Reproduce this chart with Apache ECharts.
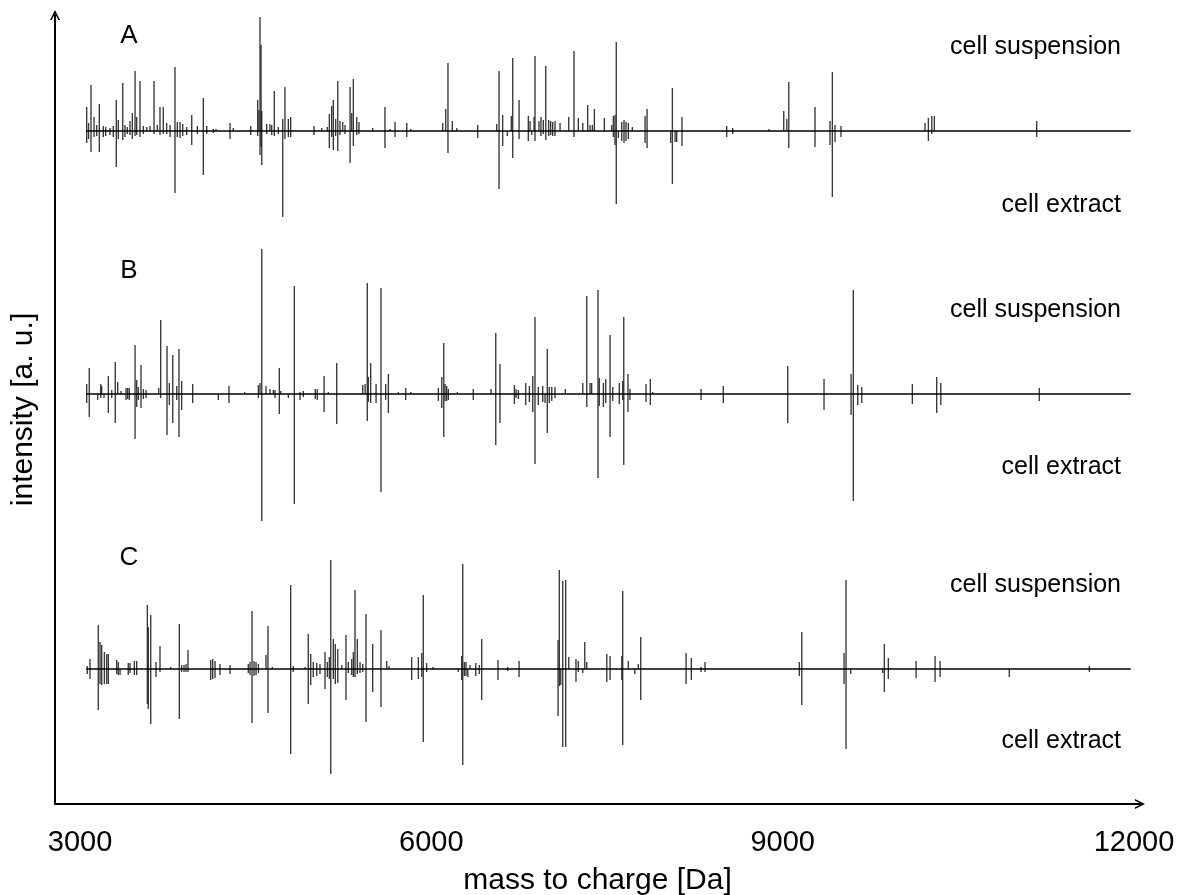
<!DOCTYPE html>
<html>
<head>
<meta charset="utf-8">
<script src="https://cdn.jsdelivr.net/npm/echarts@6/dist/echarts.min.js"></script>
<style>
html,body{margin:0;padding:0;background:#fff;}
#chart{width:1189px;height:895px;}
</style>
</head>
<body>
<div id="chart"></div>
<script>
// ---------- data (m/z in Da, intensity in arbitrary units) ----------
const xTickLabels = [3000, 6000, 9000, 12000];
const xTitle = 'mass to charge [Da]';
const yTitle = 'intensity [a. u.]';
const panelLetters = ['A', 'B', 'C'];
const upperLabel = 'cell suspension';
const lowerLabel = 'cell extract';
const baselineRange = [3051, 11972];

// Panel A
const aSusp = [[3057,24],[3073,8],[3094,46],[3120,14],[3143,6],[3165,27],[3199,5],[3219,4],[3256,3],[3284,5],[3310,31],[3327,11],[3365,48],[3384,6],[3404,4],[3427,10],[3447,18],[3470,60],[3484,14],[3512,50],[3541,5],[3570,4],[3598,5],[3632,50],[3660,6],[3683,24],[3711,24],[3740,8],[3769,6],[3811,64],[3831,9],[3854,9],[3877,7],[3911,4],[3954,16],[4002,5],[4053,33],[4082,5],[4138,2],[4161,2],[4281,8],[4309,3],[4458,5],[4517,31],[4528,21],[4537,114],[4546,86],[4552,20],[4594,7],[4622,7],[4637,6],[4659,40],[4693,4],[4731,12],[4750,44],[4779,12],[4799,14],[4998,5],[5064,3],[5112,4],[5129,17],[5149,25],[5163,31],[5183,12],[5201,50],[5220,10],[5243,9],[5263,6],[5306,44],[5320,18],[5334,52],[5363,14],[5382,9],[5499,3],[5604,24],[5647,2],[5690,9],[5790,8],[5824,2],[6097,8],[6123,22],[6142,68],[6179,10],[6217,3],[6396,6],[6558,7],[6578,60],[6609,16],[6683,15],[6695,73],[6749,31],[6828,15],[6843,10],[6877,14],[6885,75],[6919,10],[6936,14],[6956,11],[6977,65],[7002,11],[7019,10],[7036,9],[7056,10],[7099,8],[7173,14],[7218,80],[7255,13],[7293,8],[7335,26],[7355,6],[7375,6],[7392,22],[7477,13],[7540,6],[7554,15],[7568,16],[7579,89],[7626,9],[7645,11],[7662,9],[7682,8],[7716,4],[7825,15],[7842,22],[8058,43],[8140,14],[8522,5],[8573,3],[8883,2],[9009,20],[9035,12],[9052,49],[9276,24],[9404,10],[9424,59],[9447,6],[9498,5],[10215,8],[10244,13],[10273,15],[10295,15],[11169,10]];
const aExtr = [[3057,12],[3073,8],[3094,21],[3120,6],[3143,5],[3165,21],[3199,6],[3219,5],[3256,4],[3284,6],[3310,36],[3327,8],[3365,9],[3384,6],[3404,3],[3427,4],[3447,8],[3470,5],[3484,4],[3512,6],[3541,3],[3632,3],[3683,4],[3711,3],[3740,3],[3769,6],[3811,62],[3831,6],[3854,7],[3877,5],[3911,4],[3954,14],[4002,3],[4053,44],[4082,3],[4138,2],[4281,8],[4458,4],[4517,5],[4537,24],[4546,16],[4552,34],[4594,3],[4637,4],[4659,5],[4693,3],[4731,86],[4750,8],[4779,6],[4799,6],[4998,4],[5129,17],[5149,6],[5163,19],[5183,5],[5201,20],[5220,4],[5263,3],[5306,32],[5334,15],[5363,4],[5382,3],[5604,17],[5690,6],[5790,6],[6142,22],[6396,7],[6578,58],[6609,15],[6649,5],[6695,27],[6749,8],[6828,10],[6857,4],[6885,10],[6936,5],[6956,3],[6977,9],[7002,5],[7019,4],[7036,5],[7056,5],[7218,6],[7554,6],[7568,14],[7579,73],[7597,7],[7626,10],[7645,12],[7662,10],[7682,8],[7825,12],[7842,17],[8044,12],[8058,53],[8081,11],[8095,11],[8140,15],[8522,6],[8573,3],[9052,17],[9276,16],[9404,14],[9424,66],[9447,11],[9498,6],[10244,10],[10273,3],[11169,6]];

// Panel B
const bSusp = [[3057,10],[3079,26],[3177,10],[3185,8],[3242,18],[3271,4],[3301,32],[3322,12],[3350,3],[3393,6],[3407,6],[3421,6],[3470,49],[3484,14],[3498,7],[3521,29],[3541,5],[3564,4],[3672,6],[3689,74],[3743,48],[3763,11],[3792,39],[3826,8],[3845,45],[3868,13],[3962,10],[4272,8],[4406,2],[4523,9],[4537,11],[4552,145],[4588,8],[4622,5],[4651,4],[4665,4],[4702,26],[4714,3],[4830,108],[4879,2],[4907,3],[5009,5],[5026,5],[5084,18],[5120,2],[5192,31],[5414,9],[5434,10],[5453,111],[5462,17],[5482,31],[5528,10],[5570,106],[5610,10],[5633,20],[5718,2],[5781,6],[5824,2],[6060,6],[6089,17],[6106,51],[6117,10],[6131,8],[6145,5],[6222,2],[6358,5],[6510,5],[6550,61],[6586,30],[6709,9],[6723,5],[6743,4],[6806,11],[6837,8],[6866,18],[6885,77],[6913,7],[6951,8],[6990,45],[7007,7],[7028,7],[7056,7],[7144,5],[7293,11],[7327,98],[7355,11],[7369,11],[7423,104],[7434,16],[7469,11],[7489,15],[7526,59],[7549,7],[7605,11],[7634,13],[7643,77],[7679,20],[7696,5],[7833,10],[7870,15],[7890,2],[8303,5],[8493,8],[9043,28],[9353,15],[9584,20],[9603,104],[9641,9],[9675,7],[10107,10],[10315,17],[10350,11],[11191,6]];
const bExtr = [[3057,9],[3079,23],[3151,6],[3177,4],[3205,4],[3242,19],[3271,4],[3301,29],[3393,6],[3407,5],[3421,6],[3470,45],[3484,13],[3498,6],[3521,14],[3541,5],[3564,4],[3689,4],[3743,41],[3763,11],[3792,29],[3826,6],[3845,43],[3868,16],[3962,9],[4181,6],[4272,9],[4523,4],[4552,127],[4665,4],[4702,20],[4779,4],[4830,110],[4879,6],[4907,3],[5009,5],[5026,6],[5084,18],[5192,30],[5453,27],[5462,8],[5482,9],[5528,9],[5570,98],[5610,6],[5633,19],[5781,6],[6060,7],[6089,14],[6106,43],[6117,7],[6131,7],[6145,6],[6358,6],[6550,51],[6586,29],[6709,10],[6723,4],[6743,5],[6806,11],[6837,8],[6866,18],[6885,70],[6913,11],[6951,8],[6971,9],[6990,39],[7007,9],[7028,7],[7056,4],[7327,13],[7423,84],[7434,12],[7469,13],[7489,9],[7526,43],[7549,7],[7605,10],[7634,6],[7643,71],[7679,18],[7696,6],[7833,8],[7870,11],[8303,6],[8493,9],[9043,29],[9353,16],[9584,21],[9603,107],[9641,11],[9675,9],[10107,10],[10315,19],[10350,11],[11191,7]];

// Panel C
const cSusp = [[3062,3],[3085,10],[3156,44],[3171,27],[3185,24],[3208,17],[3228,15],[3242,15],[3313,9],[3327,7],[3412,6],[3427,6],[3464,8],[3484,8],[3575,64],[3583,42],[3604,54],[3649,7],[3683,23],[3774,2],[3848,45],[3868,4],[3888,4],[3905,5],[3922,19],[4116,9],[4133,10],[4153,8],[4195,5],[4281,4],[4437,5],[4452,7],[4469,58],[4486,8],[4503,7],[4523,5],[4588,14],[4605,43],[4642,2],[4799,84],[4821,3],[4921,2],[4949,35],[4970,15],[4992,7],[5021,6],[5049,5],[5092,17],[5112,7],[5129,12],[5141,109],[5163,30],[5180,25],[5201,20],[5235,4],[5271,34],[5291,7],[5320,10],[5334,17],[5348,79],[5368,30],[5391,7],[5414,5],[5442,55],[5499,25],[5570,39],[5619,8],[5639,3],[5832,12],[5889,12],[5918,16],[5931,74],[5960,6],[6014,2],[6259,13],[6268,105],[6282,7],[6296,7],[6330,4],[6379,6],[6410,4],[6430,30],[6569,9],[6652,2],[6749,8],[7082,29],[7093,99],[7122,88],[7147,89],[7173,12],[7235,10],[7255,8],[7310,27],[7327,7],[7498,15],[7526,13],[7626,13],[7634,78],[7682,8],[7767,5],[7788,32],[8175,16],[8220,11],[8303,2],[8337,7],[9142,7],[9163,37],[9524,16],[9541,89],[9868,25],[9902,11],[10139,8],[10301,13],[10344,8],[11619,3]];
const cExtr = [[3062,5],[3085,10],[3156,41],[3171,15],[3185,16],[3208,15],[3228,15],[3242,15],[3313,5],[3327,6],[3342,6],[3412,6],[3427,4],[3464,6],[3484,6],[3575,35],[3583,40],[3604,55],[3649,8],[3683,3],[3848,50],[3868,3],[3888,3],[3905,3],[3922,3],[4116,11],[4133,10],[4153,9],[4195,6],[4281,5],[4437,4],[4452,6],[4469,54],[4486,7],[4503,6],[4523,4],[4605,44],[4799,85],[4821,3],[4949,35],[4970,16],[4992,8],[5021,7],[5049,5],[5092,20],[5112,8],[5129,10],[5141,105],[5163,10],[5180,15],[5201,14],[5271,31],[5291,4],[5320,6],[5334,8],[5348,8],[5368,5],[5391,4],[5414,3],[5442,53],[5499,23],[5570,38],[5832,11],[5889,10],[5918,8],[5931,73],[5960,3],[6230,3],[6259,11],[6268,96],[6282,7],[6296,7],[6311,8],[6379,7],[6410,5],[6430,31],[6569,11],[6652,2],[6749,8],[7082,47],[7093,17],[7105,16],[7122,78],[7147,78],[7235,13],[7255,3],[7293,4],[7498,13],[7526,11],[7626,11],[7634,76],[7737,5],[7788,31],[8175,15],[8220,11],[8303,3],[8337,3],[9142,7],[9163,36],[9524,15],[9541,80],[9581,5],[9854,4],[9868,23],[9902,10],[10139,9],[10301,13],[10344,8],[10935,8],[11619,3]];

// ---------- layout ----------
const FONT = '"Liberation Sans", Arial, Helvetica, sans-serif';
const X_MIN = 2786.5, X_MAX = 12051;
const LEFT = 55, WIDTH = 1085;
const panels = [
  {susp: aSusp, extr: aExtr, base: 131, half: 130, letterY: 36, suspY: 47, extrY: 205},
  {susp: bSusp, extr: bExtr, base: 394, half: 150, letterY: 271, suspY: 310, extrY: 467},
  {susp: cSusp, extr: cExtr, base: 669, half: 130, letterY: 558, suspY: 585, extrY: 741}
];

const grids = [], xAxes = [], yAxes = [], series = [], graphics = [];

function stick(params, api) {
  const x = api.value(0), v = api.value(1);
  const p0 = api.coord([x, 0]);
  const p1 = api.coord([x, v]);
  return {
    type: 'line',
    shape: {x1: p0[0], y1: p0[1], x2: p1[0], y2: p1[1]},
    style: {stroke: 'rgba(20,20,20,0.85)', lineWidth: 1.35}
  };
}

panels.forEach((p, i) => {
  grids.push({left: LEFT, width: WIDTH, top: p.base - p.half, height: 2 * p.half, outerBoundsMode: 'none', containLabel: false});
  xAxes.push({type: 'value', gridIndex: i, min: X_MIN, max: X_MAX, show: false});
  yAxes.push({type: 'value', gridIndex: i, min: -p.half, max: p.half, show: false});
  series.push({
    type: 'custom', xAxisIndex: i, yAxisIndex: i, renderItem: stick,
    encode: {x: 0, y: 1}, data: p.susp, silent: true, z: 2
  });
  series.push({
    type: 'custom', xAxisIndex: i, yAxisIndex: i, renderItem: stick,
    encode: {x: 0, y: 1}, data: p.extr.map(d => [d[0], -d[1]]), silent: true, z: 2
  });
  series.push({
    type: 'line', xAxisIndex: i, yAxisIndex: i, symbol: 'none', silent: true, z: 3,
    data: [[baselineRange[0], 0], [baselineRange[1], 0]],
    lineStyle: {color: '#000', width: 1.6}
  });
  graphics.push({type: 'text', x: 129, y: p.letterY,
    style: {text: panelLetters[i], font: '26px ' + FONT, fill: '#000', textAlign: 'center', textVerticalAlign: 'middle'}});
  graphics.push({type: 'text', x: 1121, y: p.suspY,
    style: {text: upperLabel, font: '25px ' + FONT, fill: '#000', textAlign: 'right', textVerticalAlign: 'middle'}});
  graphics.push({type: 'text', x: 1121, y: p.extrY,
    style: {text: lowerLabel, font: '25px ' + FONT, fill: '#000', textAlign: 'right', textVerticalAlign: 'middle'}});
});

// outer frame axes with open-chevron arrows
const chevron = 'path://M0,10 L5,0 L10,10 L8.3,10 L5,3.4 L1.7,10 Z';
grids.push({left: LEFT, width: WIDTH, top: 15, height: 789, outerBoundsMode: 'none', containLabel: false});
xAxes.push({
  type: 'value', gridIndex: 3, min: X_MIN, max: X_MAX,
  axisLine: {show: true, symbol: ['none', chevron], symbolSize: [14, 10], lineStyle: {color: '#000', width: 2}},
  axisTick: {show: false}, splitLine: {show: false},
  axisLabel: {customValues: xTickLabels, formatter: v => String(v), fontSize: 29, fontFamily: FONT, color: '#000', margin: 24},
  name: xTitle, nameLocation: 'middle', nameGap: 62,
  nameTextStyle: {fontSize: 30, fontFamily: FONT, color: '#000'}
});
yAxes.push({
  type: 'value', gridIndex: 3, min: 0, max: 1,
  axisLine: {show: true, symbol: ['none', chevron], symbolSize: [14, 10], lineStyle: {color: '#000', width: 2}},
  axisTick: {show: false}, splitLine: {show: false}, axisLabel: {show: false},
  name: yTitle, nameLocation: 'middle', nameRotate: 90, nameGap: 16,
  nameTextStyle: {fontSize: 30, fontFamily: FONT, color: '#000'}
});

const chart = echarts.init(document.getElementById('chart'), null, {renderer: 'canvas'});
chart.setOption({
  backgroundColor: '#fff',
  animation: false,
  grid: grids,
  xAxis: xAxes,
  yAxis: yAxes,
  series: series,
  graphic: graphics
});
</script>
</body>
</html>
